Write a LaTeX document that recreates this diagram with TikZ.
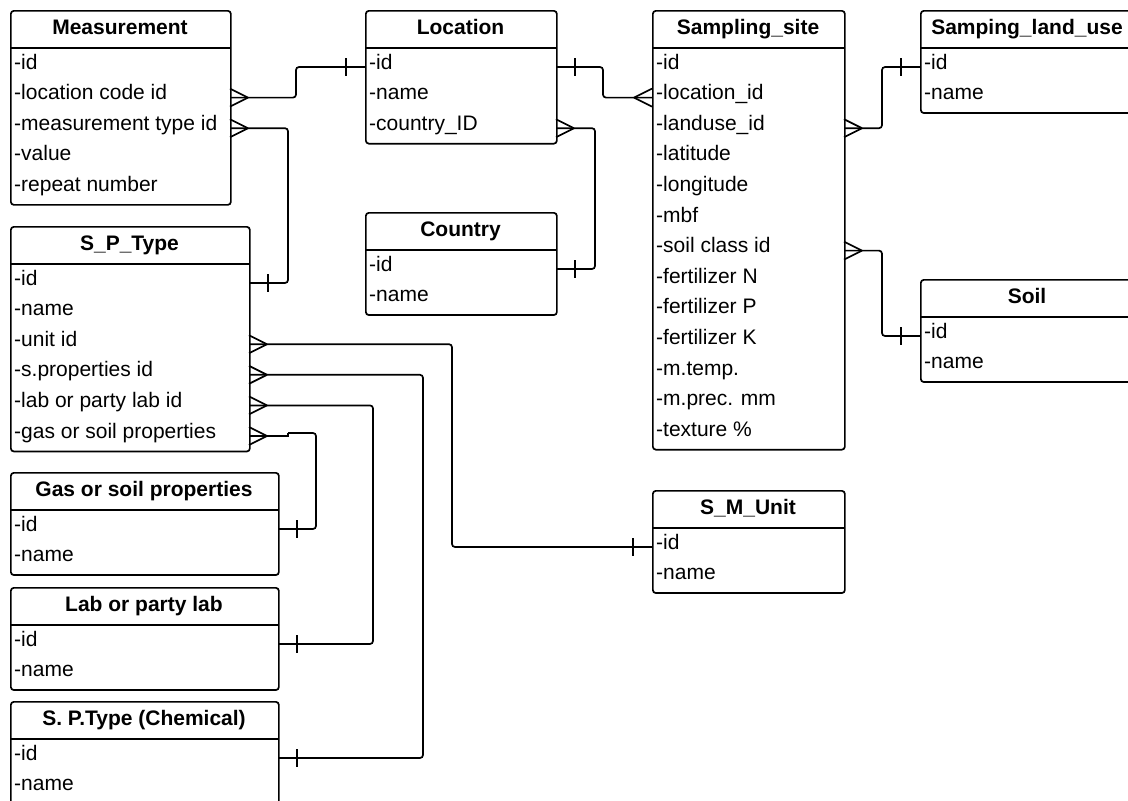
\documentclass[tikz,border=0pt]{standalone}
\usepackage{fontspec}
\setmainfont{Liberation Sans}
\begin{document}
\begin{tikzpicture}[x=1pt,y=-1pt,
  entbox/.style={draw, line width=1.7pt, fill=white, rounded corners=3pt, inner sep=0pt, anchor=north west},
  hdr/.style={font=\fontsize{21}{25}\selectfont\bfseries, inner sep=0pt, anchor=base},
  rowtxt/.style={font=\fontsize{21}{25}\selectfont, inner sep=0pt, anchor=base west},
  conn/.style={line width=1.7pt},
  link/.style={conn, rounded corners=3pt}]
\useasboundingbox (0,0) rectangle (1128,801);
\fill[white] (0,0) rectangle (1128,801);

\newcommand\entity[7]{%
  \node[entbox, minimum width={#4-#2}, minimum height={41+#5*30.6}] (#1) at (#2,#3) {};
  \draw[line width=1.7pt] (#2,{#3+38}) -- (#4,{#3+38});
  \node[hdr] (#1-h) at ({(#2+#4)/2},{#3+24}) {#6};
  \foreach \t [count=\k] in {#7} {
    \node[rowtxt] (#1-\k) at ({#2+4},{#3+59+(\k-1)*30.6}) {\t};
    \coordinate (#1-\k-L) at (#2,{#3+57+(\k-1)*30.6});
    \coordinate (#1-\k-R) at (#4,{#3+57+(\k-1)*30.6});
  }%
}
\newcommand\crowE[1]{\draw[conn] ([xshift=18pt]#1) -- ([yshift=9pt]#1) ([xshift=18pt]#1) -- ([yshift=-9pt]#1);}
\newcommand\crowW[1]{\draw[conn] ([xshift=-18pt]#1) -- ([yshift=9pt]#1) ([xshift=-18pt]#1) -- ([yshift=-9pt]#1);}
\newcommand\barE[1]{\draw[conn] ([xshift=19pt,yshift=9pt]#1) -- ([xshift=19pt,yshift=-9pt]#1);}
\newcommand\barW[1]{\draw[conn] ([xshift=-19pt,yshift=9pt]#1) -- ([xshift=-19pt,yshift=-9pt]#1);}

\entity{meas}{10}{10}{230}{5}{Measurement}{-id,-location code id,-measurement type id,-value,-repeat number}
\entity{loc}{365}{10}{556}{3}{Location}{-id,-name,-country\_ID}
\entity{cty}{365}{212}{556}{2}{Country}{-id,-name}
\entity{ss}{652}{10}{844}{13}{Sampling\_site}{-id,-location\_id,-landuse\_id,-latitude,-longitude,-mbf,-soil class id,-fertilizer N,-fertilizer P,-fertilizer K,-m.temp.,-m.prec. mm,-texture \%}
\entity{slu}{920}{10}{1134}{2}{Samping\_land\_use}{-id,-name}
\entity{soil}{920}{279}{1134}{2}{Soil}{-id,-name}
\entity{spt}{10}{226}{249}{6}{S\_P\_Type}{-id,-name,-unit id,-s.properties id,-lab or party lab id,-gas or soil properties}
\entity{gas}{10}{472}{278}{2}{Gas or soil properties}{-id,-name}
\entity{lab}{10}{587}{278}{2}{Lab or party lab}{-id,-name}
\entity{chem}{10}{701}{278}{2}{S. P.Type (Chemical)}{-id,-name}
\entity{smu}{652}{490}{844}{2}{S\_M\_Unit}{-id,-name}

% Measurement.location code id -> Location.id
\draw[link] (meas-2-R) -- ++(66,0) |- (loc-1-L);
\crowE{meas-2-R} \barW{loc-1-L}
% Measurement.measurement type id -> S_P_Type.id
\draw[link] (meas-3-R) -- ++(58,0) |- (spt-1-R);
\crowE{meas-3-R} \barE{spt-1-R}
% Location.id -> Sampling_site.location_id
\draw[link] (loc-1-R) -- ++(47,0) |- (ss-2-L);
\barE{loc-1-R} \crowW{ss-2-L}
% Location.country_ID -> Country.id
\draw[link] (loc-3-R) -- ++(39,0) |- (cty-1-R);
\crowE{loc-3-R} \barE{cty-1-R}
% Sampling_site.landuse_id -> Samping_land_use.id
\draw[link] (ss-3-R) -- ++(38,0) |- (slu-1-L);
\crowE{ss-3-R} \barW{slu-1-L}
% Sampling_site.soil class id -> Soil.id
\draw[link] (ss-7-R) -- ++(38,0) |- (soil-1-L);
\crowE{ss-7-R} \barW{soil-1-L}
% S_P_Type.unit id -> S_M_Unit.id
\draw[link] (spt-3-R) -- ++(203,0) |- (smu-1-L);
\crowE{spt-3-R} \barW{smu-1-L}
% S_P_Type.s.properties id -> S. P.Type (Chemical).id
\draw[link] (spt-4-R) -- ++(174,0) |- (chem-1-R);
\crowE{spt-4-R} \barE{chem-1-R}
% S_P_Type.lab or party lab id -> Lab or party lab.id
\draw[link] (spt-5-R) -- ++(124,0) |- (lab-1-R);
\crowE{spt-5-R} \barE{lab-1-R}
% S_P_Type.gas or soil properties -> Gas or soil properties.id
\draw[conn] (spt-6-R) -- ++(39,0) -- ++(0,-3) coordinate (gj);
\draw[link] (gj) -- ++(28,0) |- (gas-1-R);
\crowE{spt-6-R} \barE{gas-1-R}
\end{tikzpicture}
\end{document}
